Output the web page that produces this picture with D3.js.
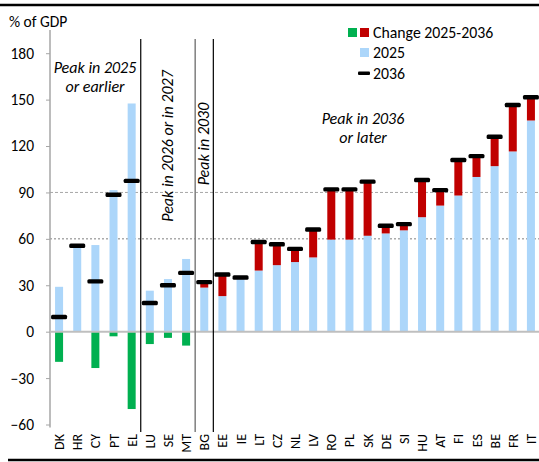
<!DOCTYPE html>
<html>
<head>
<meta charset="utf-8">
<script src="https://cdn.jsdelivr.net/npm/d3@7"></script>
<style>
  body { margin: 0; background: #fff; }
  svg { display: block; font-family: Carlito, Lato, "Liberation Sans", sans-serif; }
</style>
</head>
<body>
<svg id="chart" width="539" height="462"></svg>
<script>
const countries = ['DK', 'HR', 'CY', 'PT', 'EL', 'LU', 'SE', 'MT', 'BG', 'EE', 'IE', 'LT', 'CZ', 'NL',
  'LV', 'RO', 'PL', 'SK', 'DE', 'SI', 'HU', 'AT', 'FI', 'ES', 'BE', 'FR', 'IT'];
const debt2025 = [29, 55.5, 56, 91.5, 147.5, 26.5, 34, 47, 28.5, 23, 34, 39.5, 43, 45,
  48, 59.5, 59.5, 62, 63.5, 65.5, 74, 81.5, 88, 100, 107, 116.5, 136.5];
const debt2036 = [9.5, 55.5, 32.5, 88.5, 97.5, 18.5, 30, 38, 32, 37, 35, 58, 56.5, 53.5,
  66, 92, 92, 97, 68.5, 69.5, 98, 91.5, 111, 113.5, 126, 146.5, 151.5];
const yTicks = [-60, -30, 0, 30, 60, 90, 120, 150, 180];
const gridValues = [60, 90];
// last country of each peak group
const groupEnds = ['EL', 'MT', 'BG'];

const svg = d3.select('#chart');
const W = 539, H = 462;
const FONT = 'Carlito, Lato, "Liberation Sans", sans-serif';

const x = d3.scaleBand().domain(countries).range([50, 540]).paddingInner(0);
const y = d3.scaleLinear().domain([-60, 195]).range([424.5, 30]);
const bw = 8;   // bar width
const mw = 16;  // 2036 marker width

// borders top/bottom
svg.append('line').attr('x1', 0).attr('x2', W).attr('y1', 5).attr('y2', 5)
  .attr('stroke', '#000').attr('stroke-width', 2.5);
svg.append('line').attr('x1', 8).attr('x2', W).attr('y1', 460).attr('y2', 460)
  .attr('stroke', '#000').attr('stroke-width', 2.5);

// dashed gridlines
svg.selectAll('.grid').data(gridValues).enter().append('line')
  .attr('x1', 50).attr('x2', W)
  .attr('y1', d => y(d)).attr('y2', d => y(d))
  .attr('stroke', (d, i) => i === 0 ? '#7f7f7f' : '#a6a6a6')
  .attr('stroke-width', 1)
  .attr('stroke-dasharray', (d, i) => i === 0 ? '2,2' : '3,2');

// y axis
const yAxis = svg.append('g').attr('transform', 'translate(50,0)')
  .call(d3.axisLeft(y).tickValues(yTicks).tickSize(4).tickPadding(12));
yAxis.select('.domain').attr('stroke', '#a6a6a6').attr('stroke-width', 1.5)
  .attr('d', `M0,${y(195)}V${y(-60) + 3}`);
yAxis.selectAll('.tick line').attr('stroke', '#a6a6a6');
yAxis.selectAll('.tick text').attr('fill', '#000').style('font-size', '15.5px')
  .style('font-family', FONT);

svg.append('text').attr('x', 9).attr('y', 27).text('% of GDP')
  .style('font-size', '15.5px');

// 2025 bars
svg.selectAll('.b25').data(countries).enter().append('rect')
  .attr('x', d => x(d) + x.bandwidth() / 2 - bw / 2)
  .attr('width', bw)
  .attr('y', (d, i) => y(debt2025[i]))
  .attr('height', (d, i) => y(0) - y(debt2025[i]))
  .attr('fill', '#acd6fa');

// change bars: decrease below zero (green), increase on top of 2025 (red)
svg.selectAll('.chg').data(countries).enter().append('rect')
  .attr('x', d => x(d) + x.bandwidth() / 2 - bw / 2)
  .attr('width', bw)
  .attr('y', (d, i) => {
    const c = debt2036[i] - debt2025[i];
    return c < 0 ? y(0) : y(debt2036[i]);
  })
  .attr('height', (d, i) => {
    const c = debt2036[i] - debt2025[i];
    return Math.abs(y(0) - y(Math.abs(c)));
  })
  .attr('fill', (d, i) => debt2036[i] - debt2025[i] < 0 ? '#00b050' : '#c00000');

// zero line
svg.append('line').attr('x1', 50).attr('x2', W).attr('y1', y(0)).attr('y2', y(0))
  .attr('stroke', '#bfbfbf').attr('stroke-width', 2);

// 2036 markers
svg.selectAll('.m36').data(countries).enter().append('rect')
  .attr('x', d => x(d) + x.bandwidth() / 2 - mw / 2)
  .attr('width', mw)
  .attr('y', (d, i) => y(debt2036[i]) - 2.2)
  .attr('height', 4.4)
  .attr('rx', 1.5)
  .attr('fill', '#000');

// group separators
svg.selectAll('.sep').data(groupEnds).enter().append('line')
  .attr('x1', d => x(d) + x.bandwidth()).attr('x2', d => x(d) + x.bandwidth())
  .attr('y1', 39).attr('y2', 432)
  .attr('stroke', (d, i) => i === 1 ? '#7f7f7f' : '#000')
  .attr('stroke-width', (d, i) => i === 1 ? 1.5 : 1.2);

// x labels
svg.selectAll('.xl').data(countries).enter().append('text')
  .attr('transform', d => `translate(${x(d) + x.bandwidth() / 2},434) rotate(-90)`)
  .attr('text-anchor', 'end')
  .attr('dy', '0.36em')
  .style('font-size', '14px')
  .text(d => d);

// annotations
const ann = svg.append('g').style('font-size', '16px').style('font-style', 'italic')
  .attr('text-anchor', 'middle');
ann.append('text').attr('x', 95).attr('y', 73).text('Peak in 2025');
ann.append('text').attr('x', 95).attr('y', 92).text('or earlier');
ann.append('text').attr('transform', 'translate(173,146) rotate(-90)').text('Peak in 2026 or in 2027');
ann.append('text').attr('transform', 'translate(209,144) rotate(-90)').text('Peak in 2030');
ann.append('text').attr('x', 363).attr('y', 124).text('Peak in 2036');
ann.append('text').attr('x', 363).attr('y', 143).text('or later');

// legend
const lg = svg.append('g').style('font-size', '15.8px');
lg.append('rect').attr('x', 348).attr('y', 28).attr('width', 9).attr('height', 9).attr('fill', '#00b050');
lg.append('rect').attr('x', 360).attr('y', 28).attr('width', 9).attr('height', 9).attr('fill', '#c00000');
lg.append('text').attr('x', 373).attr('y', 38).text('Change 2025-2036');
lg.append('rect').attr('x', 360).attr('y', 48).attr('width', 9).attr('height', 9).attr('fill', '#acd6fa');
lg.append('text').attr('x', 373).attr('y', 58).text('2025');
lg.append('rect').attr('x', 358).attr('y', 71.5).attr('width', 12).attr('height', 3.5).attr('rx', 1).attr('fill', '#000');
lg.append('text').attr('x', 373).attr('y', 78.5).text('2036');
</script>
</body>
</html>
